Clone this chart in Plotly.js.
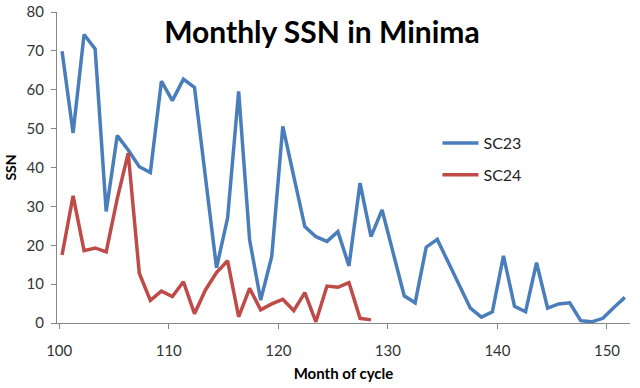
<!DOCTYPE html>
<html>
<head>
<meta charset="utf-8">
<script src="https://cdn.plot.ly/plotly-3.0.1.min.js"></script>
<style>html,body{margin:0;padding:0;background:#fff;}#chart{width:640px;height:388px;}</style>
</head>
<body>
<div id="chart"></div>
<script>
// Month of cycle (x positions)
var monthsSC23 = [100.26,101.27,102.27,103.28,104.29,105.30,106.30,107.31,108.32,109.33,
  110.33,111.34,112.35,113.35,114.36,115.37,116.38,117.38,118.39,119.40,
  120.41,121.41,122.42,123.43,124.44,125.44,126.45,127.46,128.46,129.47,
  130.48,131.49,132.49,133.50,134.51,135.52,136.52,137.53,138.54,139.54,
  140.55,141.56,142.57,143.57,144.58,145.59,146.60,147.60,148.61,149.62,
  150.63,151.63];
var ssnSC23 = [69.9,48.9,74.2,70.5,28.7,48.2,44.5,40.2,38.7,62.2,
  57.2,62.7,60.6,37.0,14.2,27.0,59.6,21.4,5.9,17.1,
  50.6,37.7,24.8,22.2,21.0,23.5,14.7,36.0,22.2,29.1,
  18.0,7.0,5.2,19.5,21.5,15.5,9.6,3.8,1.5,2.9,
  17.3,4.3,2.9,15.5,3.8,4.9,5.2,0.6,0.3,1.2,
  4.0,6.6];
var monthsSC24 = [100.26,101.27,102.27,103.28,104.29,105.30,106.30,107.31,108.32,109.33,
  110.33,111.34,112.35,113.35,114.36,115.37,116.38,117.38,118.39,119.40,
  120.41,121.41,122.42,123.43,124.44,125.44,126.45,127.46,128.46];
var ssnSC24 = [17.5,32.7,18.6,19.3,18.3,32.0,43.7,12.8,5.8,8.2,
  6.8,10.6,2.4,8.5,13.0,16.0,1.6,8.9,3.4,4.9,
  6.1,3.2,7.8,0.3,9.5,9.2,10.4,1.2,0.8];
var xTicks = [100,110,120,130,140,150];
var yTicks = [0,10,20,30,40,50,60,70,80];

var FONT = 'Lato, "Open Sans", sans-serif';
var traces = [
  {x: monthsSC23, y: ssnSC23, type: 'scatter', mode: 'lines', name: 'SC23', legendgroup: 'a',
   line: {color: '#4a7ebb', width: 3.5}},
  {x: monthsSC24, y: ssnSC24, type: 'scatter', mode: 'lines', name: 'SC24', legendgroup: 'b',
   line: {color: '#be4b48', width: 3.5}}
];
var layout = {
  width: 640, height: 388,
  margin: {l: 57, r: 10, t: 12, b: 65, pad: 0},
  paper_bgcolor: '#ffffff', plot_bgcolor: '#ffffff',
  font: {family: FONT, color: '#333333'},
  title: {text: 'Monthly SSN in Minima', font: {family: FONT, size: 30, color: '#000000', weight: 'bold'},
          x: 0.503, xanchor: 'center', y: 0.915, yanchor: 'middle', yref: 'container'},
  xaxis: {range: [99.8, 152.1], tickvals: xTicks, ticktext: xTicks.map(String),
          showgrid: false, zeroline: false, showline: true, linecolor: '#868686', linewidth: 1,
          ticks: 'outside', ticklen: 5, tickcolor: '#868686', tickfont: {size: 15, color: '#333333'},
          ticklabelstandoff: 9,
          title: {text: 'Month of cycle', font: {size: 15, color: '#000000', weight: 'bold'}, standoff: 10}},
  yaxis: {range: [0, 80], tickvals: yTicks, ticktext: yTicks.map(String),
          showgrid: false, zeroline: false, showline: true, linecolor: '#868686', linewidth: 1,
          ticks: 'outside', ticklen: 5, tickcolor: '#868686', tickfont: {size: 15, color: '#333333'},
          ticklabelstandoff: 4,
          title: {text: 'SSN', font: {size: 14, color: '#000000', weight: 'bold'}, standoff: 6}},
  showlegend: true,
  legend: {x: 0.664, y: 0.633, xanchor: 'left', yanchor: 'top', bgcolor: 'rgba(0,0,0,0)',
           font: {size: 16, color: '#222222'}, traceorder: 'grouped', tracegroupgap: 8, itemwidth: 36}
};
Plotly.newPlot('chart', traces, layout, {displayModeBar: false, staticPlot: true});
</script>
</body>
</html>
